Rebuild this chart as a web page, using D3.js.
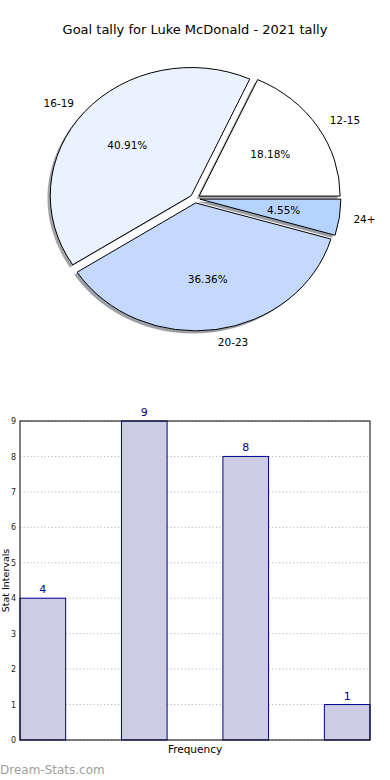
<!DOCTYPE html>
<html>
<head>
<meta charset="utf-8">
<script src="https://cdn.jsdelivr.net/npm/d3@7"></script>
<style>
  body { margin: 0; background: #fff; }
  svg { display: block; font-family: "DejaVu Sans", sans-serif; }
</style>
</head>
<body>
<svg class="vis" width="390" height="780"></svg>
<script>
// data
const title = "Goal tally for Luke McDonald - 2021 tally";
const ranges = ["12-15", "16-19", "20-23", "24+"];
const goals = [4, 9, 8, 1];
const slice_colors = ["#ffffff", "#ebf2ff", "#c5d9ff", "#b4d4ff"];
const y_ticks = [0, 1, 2, 3, 4, 5, 6, 7, 8, 9];

const svg = d3.select("svg.vis");

svg.append("text")
  .attr("x", 195).attr("y", 34)
  .attr("text-anchor", "middle")
  .attr("font-size", 13)
  .text(title);

// ---- pie (matplotlib style: starts at 3 o'clock, goes counter-clockwise)
const pie = {
  cx: 195, cy: 198.5,
  rx: 141, ry: 128,
  explode: 0.035
};

const total = d3.sum(goals);
const slices = d3.pie().sort(null)
  .startAngle(Math.PI / 2)
  .endAngle(Math.PI / 2 - 2 * Math.PI)(goals);

const arc = d3.arc().innerRadius(0).outerRadius(1);

// point on the ellipse at k * radius, for a d3 angle
const pos = (a, k, dx, dy) => [dx + k * pie.rx * Math.sin(a), dy - k * pie.ry * Math.cos(a)];

const g_pie = svg.append("g");

slices.forEach(d => {
  const mid = (d.startAngle + d.endAngle) / 2;
  d.ox = pie.cx + pie.explode * pie.rx * Math.sin(mid);
  d.oy = pie.cy - pie.explode * pie.ry * Math.cos(mid);
  d.mid = mid;
});

// shadows first
g_pie.selectAll("path.shadow")
  .data(slices)
  .join("path")
  .attr("class", "shadow")
  .attr("d", arc)
  .attr("transform", d => `translate(${d.ox - 2.8},${d.oy + 2.6}) scale(${pie.rx},${pie.ry})`)
  .attr("fill", (d, i) => {
    const c = d3.rgb(slice_colors[i]);
    return d3.rgb(c.r * 0.3, c.g * 0.3, c.b * 0.3);
  })
  .attr("fill-opacity", 0.5);

g_pie.selectAll("path.wedge")
  .data(slices)
  .join("path")
  .attr("class", "wedge")
  .attr("d", arc)
  .attr("transform", d => `translate(${d.ox},${d.oy}) scale(${pie.rx},${pie.ry})`)
  .attr("fill", (d, i) => slice_colors[i])
  .attr("stroke", "#000")
  .attr("stroke-width", 1)
  .attr("vector-effect", "non-scaling-stroke");

// outer labels at 1.1 r
g_pie.selectAll("text.lab")
  .data(slices)
  .join("text")
  .attr("class", "lab")
  .each(function(d, i) {
    const p = pos(d.mid, 1.1, d.ox, d.oy);
    d3.select(this)
      .attr("x", p[0]).attr("y", p[1])
      .attr("dy", "0.35em")
      .attr("text-anchor", Math.sin(d.mid) >= 0 ? "start" : "end")
      .attr("font-size", 10.5)
      .text(ranges[i]);
  });

// percentages at 0.6 r
g_pie.selectAll("text.pct")
  .data(slices)
  .join("text")
  .attr("class", "pct")
  .each(function(d) {
    const p = pos(d.mid, 0.6, d.ox, d.oy);
    d3.select(this)
      .attr("x", p[0]).attr("y", p[1])
      .attr("dy", "0.35em")
      .attr("text-anchor", "middle")
      .attr("font-size", 10.5)
      .text((100 * d.value / total).toFixed(2) + "%");
  });

// ---- bar chart
const plot = { left: 20, right: 370, top: 421, bottom: 740 };
const bar_w = 0.45;

const x = d3.scaleLinear().domain([0, goals.length - 1 + bar_w]).range([plot.left, plot.right]);
const y = d3.scaleLinear().domain([0, 9]).range([plot.bottom, plot.top]);

const g_bar = svg.append("g");

g_bar.selectAll("line.grid")
  .data(y_ticks)
  .join("line")
  .attr("class", "grid")
  .attr("x1", plot.left).attr("x2", plot.right)
  .attr("y1", d => y(d)).attr("y2", d => y(d))
  .attr("stroke", "#bdbdbd")
  .attr("stroke-width", 1)
  .attr("stroke-dasharray", "1.3,2.2");

g_bar.selectAll("rect.bar")
  .data(goals)
  .join("rect")
  .attr("class", "bar")
  .attr("x", (d, i) => x(i))
  .attr("y", d => y(d))
  .attr("width", x(bar_w) - x(0))
  .attr("height", d => y(0) - y(d))
  .attr("fill", "#ccccE4")
  .attr("stroke", "#00008b")
  .attr("stroke-width", 1);

g_bar.selectAll("text.val")
  .data(goals)
  .join("text")
  .attr("class", "val")
  .attr("x", (d, i) => x(i + bar_w / 2))
  .attr("y", d => y(d) - 5)
  .attr("text-anchor", "middle")
  .attr("font-size", 11)
  .attr("fill", "#00008b")
  .text(d => d);

g_bar.append("rect")
  .attr("x", plot.left).attr("y", plot.top)
  .attr("width", plot.right - plot.left)
  .attr("height", plot.bottom - plot.top)
  .attr("fill", "none")
  .attr("stroke", "#000")
  .attr("stroke-width", 1);

const y_axis = d3.axisLeft(y).tickValues(y_ticks).tickSize(0).tickPadding(4);
g_bar.append("g")
  .attr("transform", `translate(${plot.left},0)`)
  .call(y_axis)
  .call(g => g.select(".domain").remove())
  .call(g => g.selectAll("text").attr("font-size", 8).attr("fill", "#222")
    .attr("font-family", "DejaVu Sans, sans-serif"));

svg.append("text")
  .attr("transform", `translate(8.5,${(plot.top + plot.bottom) / 2}) rotate(-90)`)
  .attr("text-anchor", "middle")
  .attr("font-size", 9.5)
  .text("Stat Intervals");

svg.append("text")
  .attr("x", (plot.left + plot.right) / 2).attr("y", 753)
  .attr("text-anchor", "middle")
  .attr("font-size", 10.5)
  .text("Frequency");

svg.append("text")
  .attr("x", 0).attr("y", 774)
  .attr("font-size", 12)
  .attr("fill", "#a0a0a0")
  .text("Dream-Stats.com");
</script>
</body>
</html>
